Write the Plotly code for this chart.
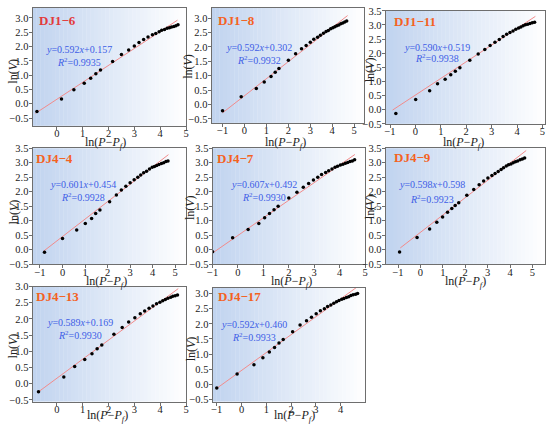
"""Eight-panel ln(V) vs ln(P-Pf) fits (DJ1 / DJ4 samples)."""

import plotly.graph_objects as go

# ---- data ----
names = ["DJ1−6", "DJ1−8", "DJ1−11", "DJ4−4", "DJ4−7", "DJ4−9", "DJ4−13", "DJ4−17"]
slopes = [0.592, 0.592, 0.590, 0.601, 0.607, 0.598, 0.589, 0.592]
intercepts = [0.157, 0.302, 0.519, 0.454, 0.492, 0.598, 0.169, 0.460]
r2_values = ["0.9935", "0.9932", "0.9938", "0.9928", "0.9930", "0.9923", "0.9930", "0.9933"]
fit_x_start = [-0.83, -1.0, -0.9, -0.85, -1.0, -0.9, -0.75, -1.0]
fit_x_end = [4.67, 4.7, 4.72, 4.7, 4.6, 4.72, 4.7, 4.7]

dj1_6_x = [-0.77, 0.18, 0.66, 1.06, 1.31, 1.51, 1.69, 2.16, 2.50, 2.78, 3.00, 3.18, 3.36,
           3.53, 3.70, 3.83, 3.96, 4.06, 4.17, 4.27, 4.36, 4.44, 4.53, 4.61, 4.69]
dj1_6_y = [-0.27, 0.17, 0.49, 0.72, 0.89, 1.05, 1.18, 1.48, 1.72, 1.88, 2.02, 2.14, 2.25,
           2.33, 2.41, 2.46, 2.52, 2.57, 2.60, 2.64, 2.66, 2.68, 2.70, 2.73, 2.76]

dj1_8_x = [-1.0, -0.15, 0.54, 0.90, 1.21, 1.40, 1.57, 2.00, 2.33, 2.60, 2.81, 3.00, 3.16, 3.33,
           3.46, 3.60, 3.72, 3.82, 3.93, 4.03, 4.12, 4.21, 4.30, 4.39, 4.48, 4.57, 4.66]
dj1_8_y = [-0.22, 0.27, 0.55, 0.78, 0.97, 1.12, 1.25, 1.53, 1.76, 1.93, 2.05, 2.16, 2.26, 2.33,
           2.40, 2.47, 2.53, 2.57, 2.63, 2.66, 2.70, 2.73, 2.76, 2.80, 2.83, 2.86, 2.90]

dj1_11_x = [-0.77, 0.01, 0.56, 0.87, 1.17, 1.39, 1.57, 1.75, 2.14, 2.47, 2.73, 2.94, 3.13, 3.30,
            3.45, 3.59, 3.72, 3.84, 3.95, 4.06, 4.15, 4.24, 4.33, 4.42, 4.51, 4.60, 4.69]
dj1_11_y = [-0.13, 0.36, 0.67, 0.92, 1.08, 1.24, 1.36, 1.49, 1.75, 1.97, 2.13, 2.27, 2.39, 2.49,
            2.59, 2.67, 2.73, 2.79, 2.85, 2.89, 2.93, 2.97, 3.01, 3.03, 3.05, 3.08, 3.10]

dj4_4_x = [-0.80, 0.00, 0.63, 1.01, 1.29, 1.47, 1.66, 2.09, 2.39, 2.61, 2.81, 3.00, 3.18, 3.34,
           3.47, 3.60, 3.73, 3.86, 3.98, 4.08, 4.18, 4.28, 4.39, 4.49, 4.59, 4.68]
dj4_4_y = [-0.09, 0.39, 0.68, 0.90, 1.08, 1.25, 1.37, 1.65, 1.89, 2.06, 2.19, 2.31, 2.41, 2.50,
           2.58, 2.65, 2.71, 2.78, 2.84, 2.87, 2.90, 2.94, 2.97, 3.00, 3.04, 3.06]

dj4_7_x = [-1.0, -0.21, 0.40, 0.82, 1.05, 1.24, 1.42, 1.58, 2.00, 2.32, 2.57, 2.78, 2.97, 3.14,
           3.29, 3.45, 3.57, 3.70, 3.82, 3.92, 4.03, 4.13, 4.23, 4.32, 4.41, 4.50, 4.59]
dj4_7_y = [-0.07, 0.41, 0.70, 0.90, 1.10, 1.25, 1.38, 1.50, 1.78, 1.98, 2.15, 2.28, 2.40, 2.50,
           2.59, 2.66, 2.72, 2.78, 2.84, 2.88, 2.92, 2.95, 2.98, 3.01, 3.04, 3.06, 3.10]

dj4_9_x = [-0.93, -0.15, 0.41, 0.73, 0.99, 1.21, 1.40, 1.55, 1.71, 2.07, 2.38, 2.62, 2.82, 3.01,
           3.19, 3.33, 3.47, 3.60, 3.71, 3.83, 3.93, 4.04, 4.14, 4.24, 4.34, 4.45, 4.55, 4.65]
dj4_9_y = [-0.08, 0.42, 0.71, 0.95, 1.13, 1.29, 1.42, 1.52, 1.62, 1.88, 2.08, 2.24, 2.37, 2.47,
           2.56, 2.63, 2.70, 2.77, 2.83, 2.89, 2.93, 2.96, 3.00, 3.03, 3.06, 3.10, 3.13, 3.16]

dj4_13_x = [-0.71, 0.27, 0.69, 1.08, 1.36, 1.56, 1.74, 2.21, 2.53, 2.78, 3.02, 3.23, 3.40,
            3.57, 3.72, 3.86, 3.99, 4.10, 4.20, 4.30, 4.41, 4.49, 4.58, 4.67]
dj4_13_y = [-0.25, 0.21, 0.53, 0.75, 0.93, 1.08, 1.20, 1.53, 1.74, 1.91, 2.04, 2.16, 2.25,
            2.33, 2.40, 2.47, 2.52, 2.56, 2.60, 2.64, 2.67, 2.70, 2.72, 2.74]

dj4_17_x = [-1.0, -0.18, 0.50, 0.86, 1.12, 1.33, 1.51, 1.68, 2.06, 2.36, 2.62, 2.82, 3.01, 3.18,
            3.34, 3.47, 3.60, 3.72, 3.83, 3.93, 4.04, 4.13, 4.23, 4.32, 4.41, 4.50, 4.60, 4.68]
dj4_17_y = [-0.12, 0.34, 0.65, 0.88, 1.07, 1.22, 1.37, 1.48, 1.74, 1.96, 2.10, 2.22, 2.33, 2.43,
            2.50, 2.57, 2.62, 2.68, 2.73, 2.77, 2.81, 2.84, 2.87, 2.90, 2.94, 2.96, 2.98, 3.00]

points_x = [dj1_6_x, dj1_8_x, dj1_11_x, dj4_4_x, dj4_7_x, dj4_9_x, dj4_13_x, dj4_17_x]
points_y = [dj1_6_y, dj1_8_y, dj1_11_y, dj4_4_y, dj4_7_y, dj4_9_y, dj4_13_y, dj4_17_y]

# ---- layout: panel boxes in pixels (left, right, top, bottom) and axis ranges ----
W, H = 550, 429
boxes = [(27, 183, 3, 124), (209, 364, 3, 121), (386, 548, 6, 122),
         (27, 183, 147, 266), (210, 365, 147, 266), (386, 548, 147, 266),
         (27, 183, 289, 407), (210, 365, 290, 407)]
xranges = [[-0.94, 5.0], [-1.5, 5.45], [-1.17, 5.1], [-1.33, 5.48],
           [-1.0, 5.0], [-1.55, 5.56], [-0.94, 5.0], [-1.17, 4.98]]
yranges = [[-0.77, 3.35], [-0.64, 3.35], [-0.5, 3.5], [-0.5, 3.5],
           [-0.5, 3.5], [-0.5, 3.5], [-0.55, 3.0], [-0.57, 3.2]]
title_pos = [(0.03, 0.89), (0.03, 0.89), (0.04, 0.91), (0.01, 0.91),
             (0.015, 0.91), (0.04, 0.92), (0.01, 0.915), (0.02, 0.92)]
eq_pos = [(0.30, 0.65, 0.545), (0.31, 0.66, 0.55), (0.32, 0.68, 0.58), (0.33, 0.69, 0.58),
          (0.34, 0.69, 0.58), (0.29, 0.69, 0.56), (0.31, 0.69, 0.58), (0.27, 0.68, 0.57)]
# axis-title centres in pixels
xtitle_px = [(101, 142), (284, 142), (465, 142), (102, 284), (290, 284), (467, 284),
             (103, 422), (293, 422)]
ytitle_px = [(7.5, 68), (185.5, 63), (370, 66), (8, 212), (186.5, 208), (369.5, 207),
             (7.5, 350), (188.5, 353)]
title_colors = ["#e23b3b"] + ["#f4621f"] * 7

SERIF = "Liberation Serif, Times New Roman, serif"
AXIS_GREY = "#6e6e6e"
TXT = "#222222"
EQ_BLUE = "#3d5ee6"
GRAD_LEFT = (192, 211, 239)
N_STRIPS = 40

fig = go.Figure()
layout = dict(
    width=W, height=H, margin=dict(l=0, r=0, t=0, b=0),
    paper_bgcolor="white", plot_bgcolor="rgba(0,0,0,0)",
    showlegend=False, font=dict(family=SERIF, size=11, color=TXT),
)
shapes, annotations = [], []

for i in range(8):
    n = "" if i == 0 else str(i + 1)
    xa, ya = "x" + n, "y" + n
    left, right, top, bottom = boxes[i]

    layout["xaxis" + n] = dict(
        domain=[left / W, right / W], range=xranges[i], anchor=ya,
        dtick=1, tick0=0, ticks="outside", ticklen=3, tickcolor=AXIS_GREY,
        ticklabelstandoff=-5,
        showline=True, linecolor=AXIS_GREY, linewidth=1, mirror=True,
        showgrid=False, zeroline=False, tickfont=dict(size=10.5, color=TXT),
    )
    layout["yaxis" + n] = dict(
        domain=[1 - bottom / H, 1 - top / H], range=yranges[i], anchor=xa,
        dtick=0.5, tick0=0, tickformat=".1f", ticks="outside", ticklen=3,
        ticklabelstandoff=-2,
        tickcolor=AXIS_GREY, showline=True, linecolor=AXIS_GREY, linewidth=1,
        mirror=True, showgrid=False, zeroline=False,
        tickfont=dict(size=10.5, color=TXT),
    )

    # blue-to-white background gradient
    for k in range(N_STRIPS):
        t = (k + 0.5) / N_STRIPS
        c = tuple(round(g + (255 - g) * t) for g in GRAD_LEFT)
        shapes.append(dict(
            type="rect", xref=xa + " domain", yref=ya + " domain",
            x0=k / N_STRIPS, x1=min(1, (k + 1) / N_STRIPS + 0.002), y0=0, y1=1,
            fillcolor=f"rgb{c}", line=dict(width=0), layer="below",
        ))

    # fit line from the printed equation
    fx = [fit_x_start[i], fit_x_end[i]]
    fy = [slopes[i] * v + intercepts[i] for v in fx]
    fig.add_trace(go.Scatter(x=fx, y=fy, mode="lines", xaxis=xa, yaxis=ya,
                             line=dict(color="#f28b8b", width=1)))
    fig.add_trace(go.Scatter(x=points_x[i], y=points_y[i], mode="markers", xaxis=xa, yaxis=ya,
                             marker=dict(color="black", size=3.5)))

    tx, ty = title_pos[i]
    annotations.append(dict(
        text=f"<b>{names[i]}</b>", xref=xa + " domain", yref=ya + " domain",
        x=tx, y=ty, xanchor="left", yanchor="middle", showarrow=False,
        font=dict(size=13, color=title_colors[i], family=SERIF),
    ))
    ex, ey1, ey2 = eq_pos[i]
    annotations.append(dict(
        text=f"<i>y</i>={slopes[i]:.3f}<i>x</i>+{intercepts[i]:.3f}",
        xref=xa + " domain", yref=ya + " domain", x=ex, y=ey1,
        xanchor="center", yanchor="middle", showarrow=False,
        font=dict(size=10, color=EQ_BLUE, family=SERIF),
    ))
    annotations.append(dict(
        text=f"<i>R</i><sup>2</sup>={r2_values[i]}",
        xref=xa + " domain", yref=ya + " domain", x=ex, y=ey2,
        xanchor="center", yanchor="middle", showarrow=False,
        font=dict(size=10, color=EQ_BLUE, family=SERIF),
    ))

    # axis titles
    px_, py_ = xtitle_px[i]
    annotations.append(dict(
        text="ln(<i>P</i>−<i>P</i><sub><i>f</i></sub>)", xref="paper", yref="paper",
        x=px_ / W, y=1 - py_ / H, xanchor="center", yanchor="middle", showarrow=False,
        font=dict(size=12, color=TXT, family=SERIF),
    ))
    px_, py_ = ytitle_px[i]
    annotations.append(dict(
        text="ln(<i>V</i>)", xref="paper", yref="paper", textangle=-90,
        x=px_ / W, y=1 - py_ / H, xanchor="center", yanchor="middle", showarrow=False,
        font=dict(size=12, color=TXT, family=SERIF),
    ))

layout["shapes"] = shapes
layout["annotations"] = annotations
fig.update_layout(**layout)
fig.write_html("out.html", config={"displayModeBar": False},
               post_script="document.body.style.margin='0px';")
